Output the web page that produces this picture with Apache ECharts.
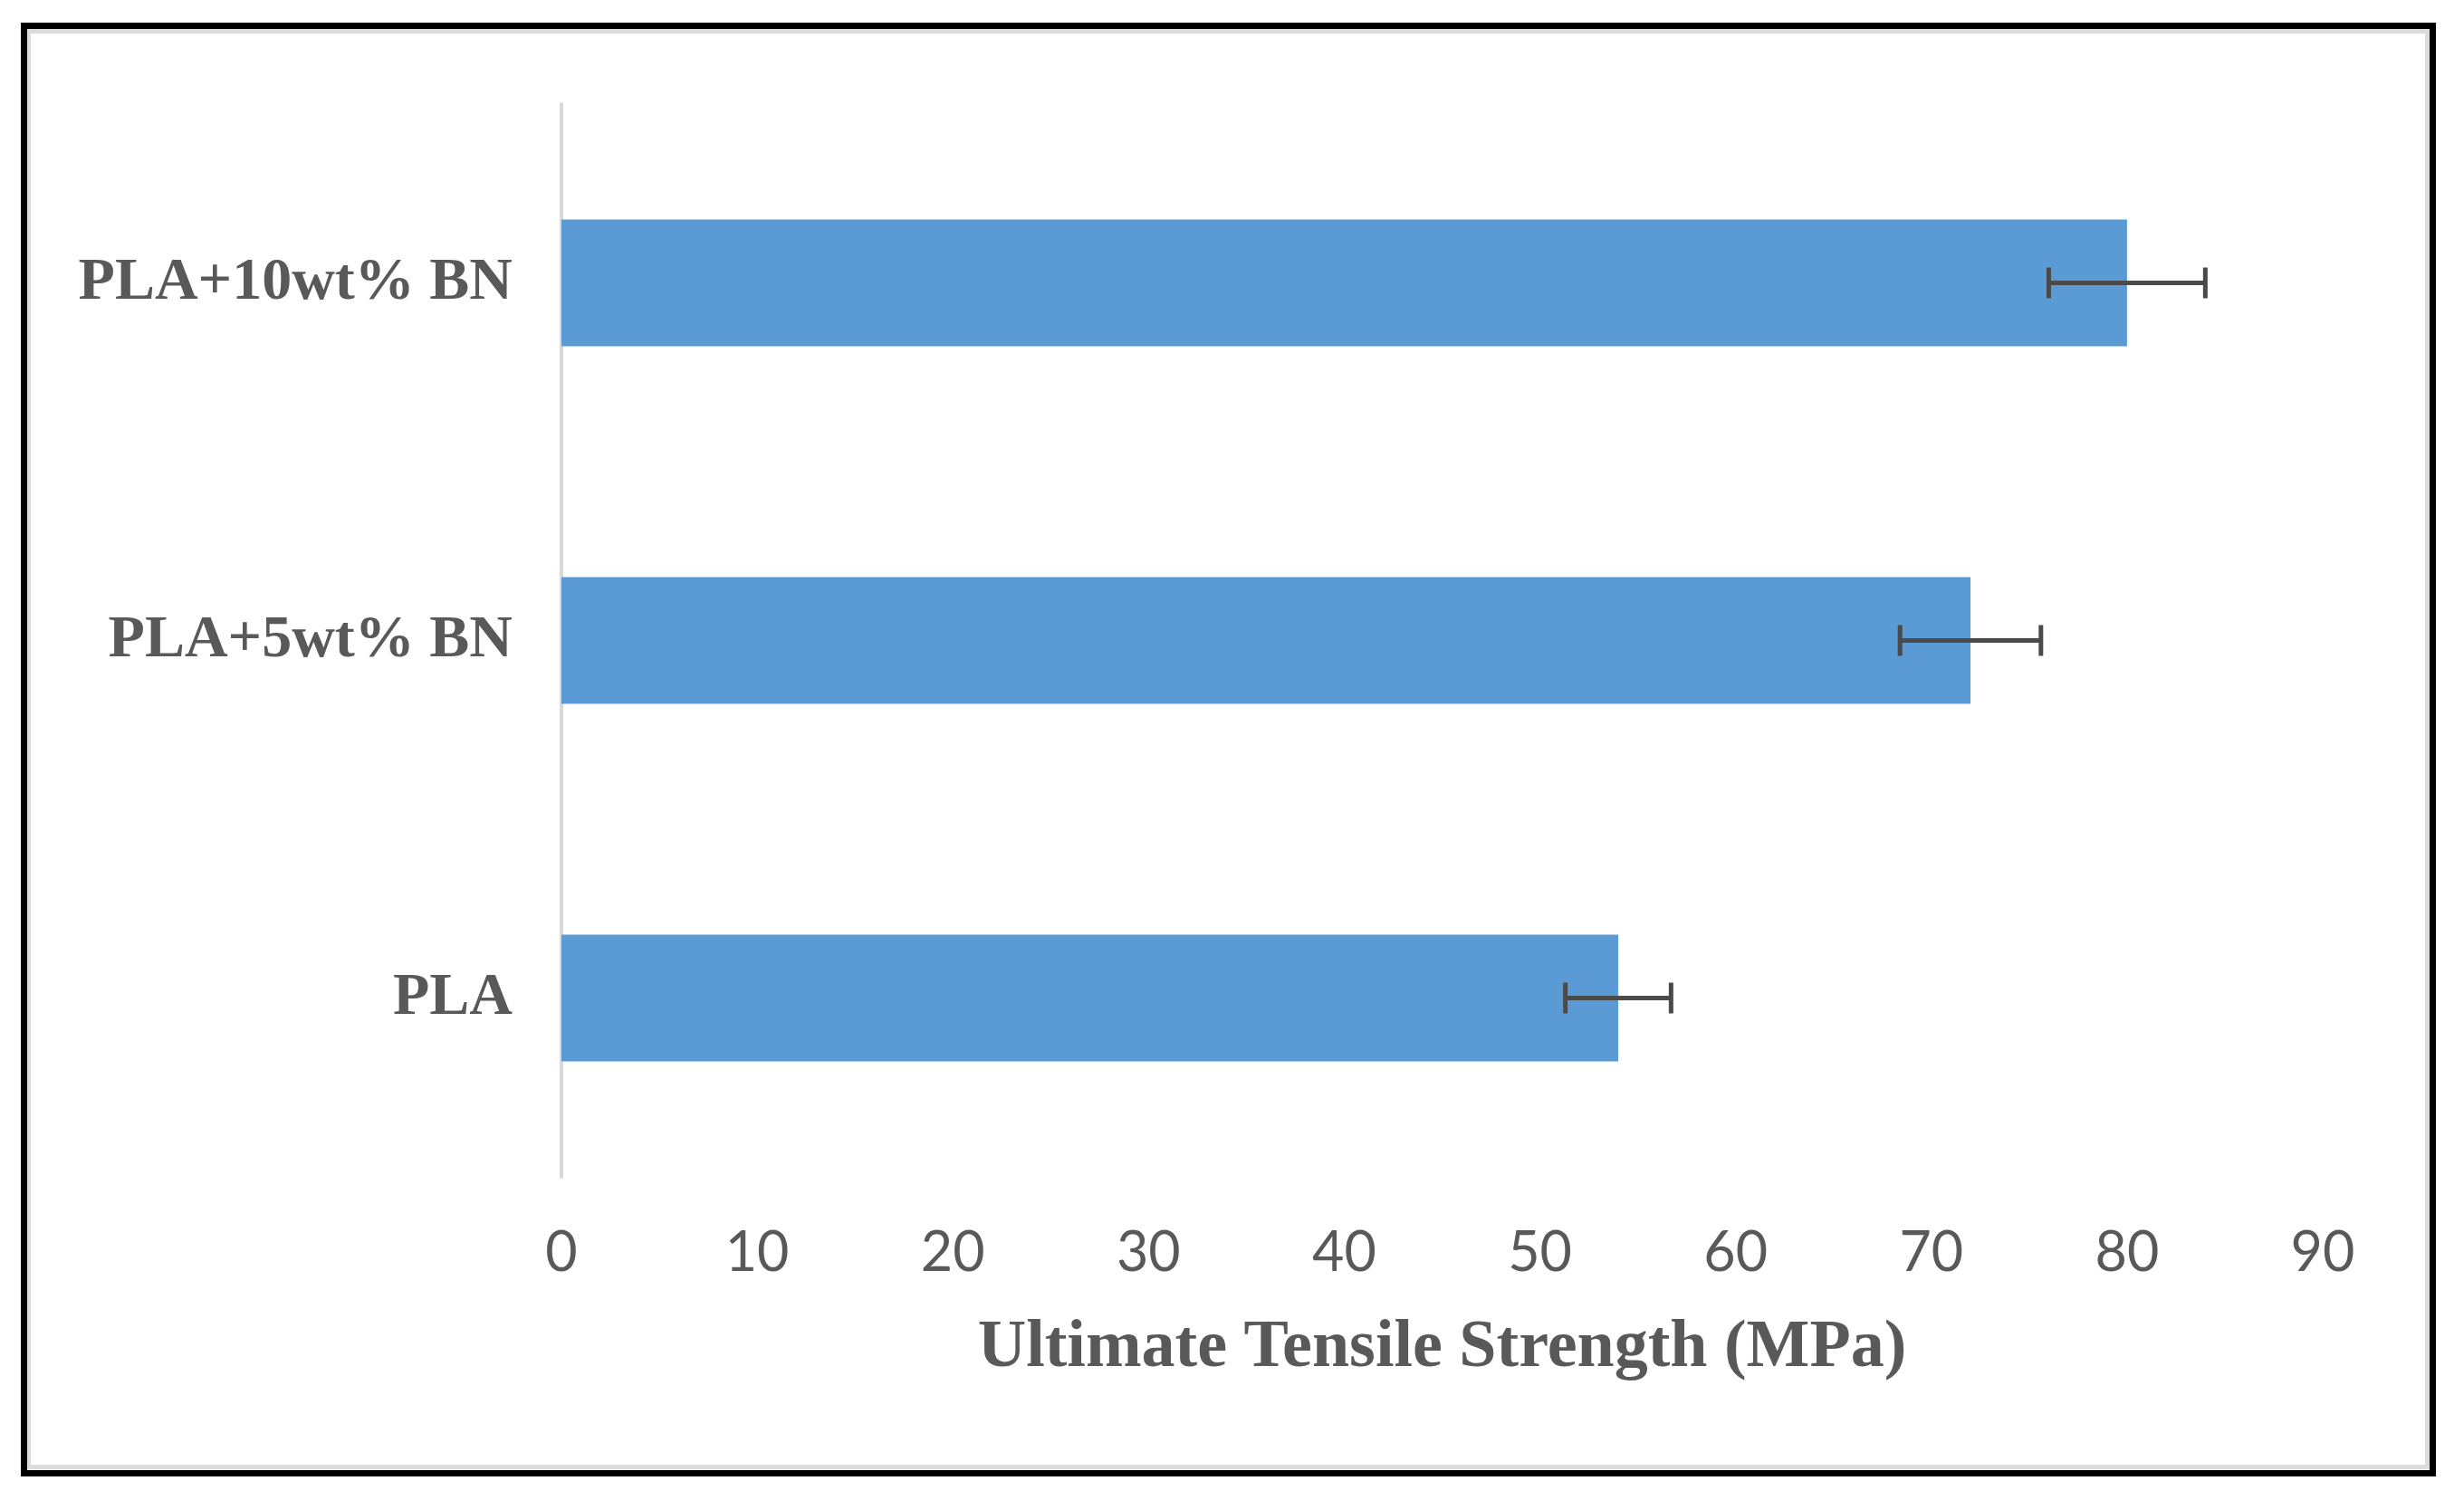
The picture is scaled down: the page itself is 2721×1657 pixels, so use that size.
<!DOCTYPE html>
<html>
<head>
<meta charset="utf-8">
<script src="https://cdn.jsdelivr.net/npm/echarts@6/dist/echarts.min.js"></script>
<style>
html,body{margin:0;padding:0;background:#fff;}
#c{width:2721px;height:1657px;}
</style>
</head>
<body>
<div id="c"></div>
<script>
const categories = ['PLA', 'PLA+5wt% BN', 'PLA+10wt% BN'];
const strengthValues = [54, 72, 80];
const strengthErrors = [2.7, 3.6, 4.0];
const xTicks = [0, 10, 20, 30, 40, 50, 60, 70, 80, 90];
const axisTitle = 'Ultimate Tensile Strength (MPa)';

const chart = echarts.init(document.getElementById('c'), null, {renderer: 'canvas'});
const errData = categories.map((c, i) => [i, strengthValues[i] - strengthErrors[i], strengthValues[i] + strengthErrors[i]]);

chart.setOption({
  backgroundColor: '#ffffff',
  animation: false,
  graphic: [
    {type: 'rect', shape: {x: 26.5, y: 28.5, width: 2660, height: 1599}, style: {fill: 'none', stroke: '#000', lineWidth: 7}, z: 100},
    {type: 'rect', shape: {x: 31.5, y: 34.5, width: 2649, height: 1586}, style: {fill: 'none', stroke: '#dcdcdc', lineWidth: 5}, z: 99}
  ],
  grid: {left: 620, right: 2721 - 2565, top: 115, bottom: 1657 - 1300, containLabel: false},
  xAxis: {
    type: 'value',
    min: xTicks[0],
    max: xTicks[xTicks.length - 1],
    interval: xTicks[1] - xTicks[0],
    axisLine: {show: false},
    axisTick: {show: false},
    splitLine: {show: false},
    axisLabel: {color: '#595959', fontFamily: 'Lato', fontSize: 61, margin: 54},
    name: axisTitle,
    nameLocation: 'middle',
    nameGap: 153,
    nameTextStyle: {color: '#595959', fontFamily: 'Liberation Serif', fontWeight: 'bold', fontSize: 74}
  },
  yAxis: {
    type: 'category',
    data: categories,
    axisLine: {show: true, lineStyle: {color: '#d9d9d9', width: 4}},
    axisTick: {show: false},
    axisLabel: {color: '#595959', fontFamily: 'Liberation Serif', fontWeight: 'bold', fontSize: 66, margin: 54}
  },
  series: [
    {
      type: 'bar',
      data: strengthValues,
      barCategoryGap: '64.5%',
      itemStyle: {color: '#5b9bd5'},
      z: 2
    },
    {
      type: 'custom',
      data: errData,
      z: 5,
      renderItem: function (params, api) {
        const cat = api.value(0);
        const lo = api.coord([api.value(1), cat]);
        const hi = api.coord([api.value(2), cat]);
        const h = 17;
        const style = {stroke: '#4a4a4a', lineWidth: 5};
        return {
          type: 'group',
          children: [
            {type: 'line', shape: {x1: lo[0], y1: lo[1], x2: hi[0], y2: hi[1]}, style: style},
            {type: 'line', shape: {x1: lo[0], y1: lo[1] - h, x2: lo[0], y2: lo[1] + h}, style: style},
            {type: 'line', shape: {x1: hi[0], y1: hi[1] - h, x2: hi[0], y2: hi[1] + h}, style: style}
          ]
        };
      }
    }
  ]
});
</script>
</body>
</html>
